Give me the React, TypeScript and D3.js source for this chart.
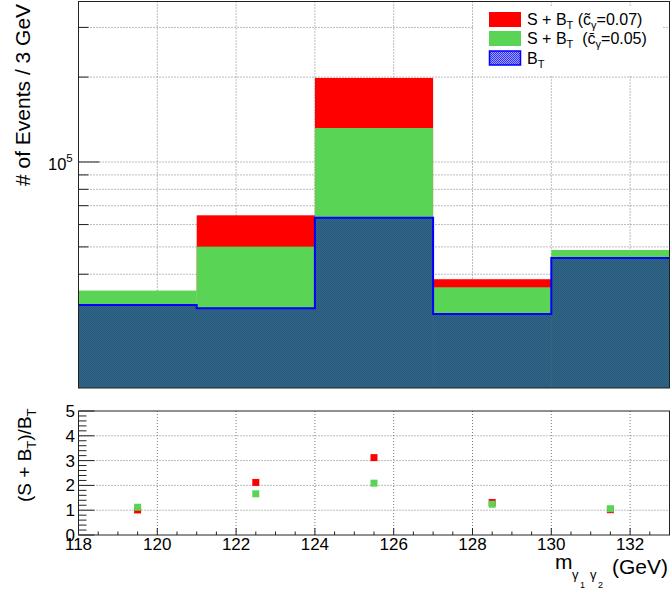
import React from "react";
import * as d3 from "d3";

// ---- data ----
const binEdges = [118, 121, 124, 127, 130, 133];
const bkgValues = [31100, 30300, 63450, 28900, 45700];          // B_T
const sig005Values = [35000, 50100, 132000, 35960, 48750];      // S + B_T (0.05)
const sig007Values = [31400, 64700, 198600, 38400, 46600];      // S + B_T (0.07)
const ratio007 = [1.01, 2.12, 3.12, 1.31, 1.02];
const ratio005 = [1.12, 1.66, 2.09, 1.24, 1.06];
const xMajorTicks = [118, 120, 122, 124, 126, 128, 130, 132];
const yTopTicks = [20000, 30000, 40000, 50000, 60000, 70000, 80000, 90000, 100000, 200000, 300000];
const yTopDomain = [15800, 370700];
const yRatioTicks = [0, 1, 2, 3, 4, 5];

const W = 670, H = 594;
const FONT = "'Liberation Sans', Arial, Helvetica, sans-serif";
const RED = "#ff0000";
const GREEN = "#59d454";
const BLUE = "#0000ff";
const GRID = "#7a7a7a";

export default function App() {
  const x = d3.scaleLinear().domain([118, 133]).range([78.5, 669.5]);
  const yTop = d3.scaleLog().domain(yTopDomain).range([388, 1.5]);
  const yR = d3.scaleLinear().domain([0, 5]).range([535, 411]);

  const bins = d3.range(bkgValues.length).map((i) => ({
    x0: binEdges[i],
    x1: binEdges[i + 1],
    c: (binEdges[i] + binEdges[i + 1]) / 2,
    b: bkgValues[i],
    g: sig005Values[i],
    r: sig007Values[i],
  }));

  const stepPts: [number, number][] = [];
  bins.forEach((b) => {
    stepPts.push([x(b.x0), yTop(b.b)]);
    stepPts.push([x(b.x1), yTop(b.b)]);
  });
  const stepLine = d3.line()(stepPts) as string;

  const xMinor = d3.range(118, 133.01, 0.5).filter((v) => !xMajorTicks.includes(v));
  const yRMinor = d3.range(0, 5.001, 0.2).filter((v) => Math.abs(v - Math.round(v)) > 1e-6);

  const bottomTop = yTop.range()[0];
  return (
    <svg width={W} height={H} style={{ position: "absolute", left: 0, top: 0, fontFamily: FONT }}>
      <defs>
        <pattern id="btfill" width={2} height={2} patternUnits="userSpaceOnUse">
          <rect width={2} height={2} fill="#37705a" />
          <rect width={1} height={1} fill="#2350a8" />
          <rect x={1} y={1} width={1} height={1} fill="#2350a8" />
        </pattern>
        <pattern id="btleg" width={2} height={2} patternUnits="userSpaceOnUse">
          <rect width={2} height={2} fill="#a0a0ff" />
          <rect width={1} height={1} fill="#3030ff" />
          <rect x={1} y={1} width={1} height={1} fill="#3030ff" />
        </pattern>
      </defs>
      <rect width={W} height={H} fill="#fff" />

      {/* ===== TOP PAD ===== */}
      {xMajorTicks.slice(1).map((v) => (
        <line key={"gx" + v} x1={x(v)} x2={x(v)} y1={1.5} y2={388} stroke={GRID} strokeDasharray="1,2" />
      ))}
      {yTopTicks.map((v) => (
        <line key={"gy" + v} x1={78.5} x2={669.5} y1={yTop(v)} y2={yTop(v)} stroke={GRID} strokeDasharray="1,2" />
      ))}
      {yTopTicks.map((v) => (
        <line key={"ty" + v} x1={78.5} x2={78.5 + (v === 100000 ? 21 : 10)} y1={yTop(v)} y2={yTop(v)} stroke="#222" />
      ))}
      {bins.map((b, i) => (
        <rect key={"r" + i} x={x(b.x0)} y={yTop(b.r)} width={x(b.x1) - x(b.x0)} height={bottomTop - yTop(b.r)} fill={RED} />
      ))}
      {bins.map((b, i) => (
        <rect key={"g" + i} x={x(b.x0)} y={yTop(b.g)} width={x(b.x1) - x(b.x0)} height={bottomTop - yTop(b.g)} fill={GREEN} />
      ))}
      {bins.map((b, i) => (
        <rect key={"b" + i} x={x(b.x0)} y={yTop(b.b)} width={x(b.x1) - x(b.x0) + 0.5} height={bottomTop - yTop(b.b)} fill="url(#btfill)" />
      ))}
      <path d={stepLine} fill="none" stroke={BLUE} strokeWidth={2} />
      <rect x={78.5} y={1.5} width={591} height={386.5} fill="none" stroke="#222" strokeWidth={1} />
      <text x={48} y={yTop(100000) + 8} fontSize={16.5} fill="#000">
        10<tspan dy={-8} fontSize={11.5}>5</tspan>
      </text>
      <text transform={`translate(30,186) rotate(-90)`} fontSize={21} textAnchor="start" fill="#000">
        # of Events / 3 GeV
      </text>

      {/* legend */}
      <rect x={474} y={6} width={189} height={70} fill="#fff" />
      <rect x={489} y={12} width={32} height={15} fill={RED} />
      <rect x={489} y={31} width={32} height={15} fill={GREEN} />
      <rect x={489.5} y={51} width={31} height={14} fill="url(#btleg)" stroke={BLUE} strokeWidth={1.5} />
      <text x={527} y={25} fontSize={16} fill="#000">
        S + B<tspan fontSize={11} dy={4}>T</tspan>
        <tspan dy={-4}>{" (c\u0303"}</tspan>
        <tspan fontSize={11} dy={4}>γ</tspan>
        <tspan dy={-4}>=0.07)</tspan>
      </text>
      <text x={527} y={44} fontSize={16} fill="#000">
        S + B<tspan fontSize={11} dy={4}>T</tspan>
        <tspan dy={-4}>{"\u00a0 (c\u0304"}</tspan>
        <tspan fontSize={11} dy={4}>γ</tspan>
        <tspan dy={-4}>=0.05)</tspan>
      </text>
      <text x={527} y={64} fontSize={16} fill="#000">
        B<tspan fontSize={11} dy={4}>T</tspan>
      </text>

      {/* ===== BOTTOM PAD ===== */}
      {xMajorTicks.slice(1).map((v) => (
        <line key={"bgx" + v} x1={x(v)} x2={x(v)} y1={411} y2={535} stroke={GRID} strokeDasharray="1,2" />
      ))}
      {[1, 2, 3, 4].map((v) => (
        <line key={"bgy" + v} x1={78.5} x2={669.5} y1={yR(v)} y2={yR(v)} stroke={GRID} strokeDasharray="1,2" />
      ))}
      {yRatioTicks.map((v) => (
        <line key={"rty" + v} x1={78.5} x2={94.5} y1={yR(v)} y2={yR(v)} stroke="#222" />
      ))}
      {yRMinor.map((v) => (
        <line key={"rtym" + v} x1={78.5} x2={86.5} y1={yR(v)} y2={yR(v)} stroke="#222" />
      ))}
      {xMajorTicks.map((v) => (
        <line key={"rtx" + v} x1={x(v)} x2={x(v)} y1={535} y2={528} stroke="#222" />
      ))}
      {xMinor.map((v) => (
        <line key={"rtxm" + v} x1={x(v)} x2={x(v)} y1={535} y2={531.5} stroke="#222" />
      ))}
      {bins.map((b, i) => (
        <rect key={"mr" + i} x={x(b.c) - 3.5} y={yR(ratio007[i]) - 3.5} width={7} height={7} fill={RED} />
      ))}
      {bins.map((b, i) => (
        <rect key={"mg" + i} x={x(b.c) - 3.5} y={yR(ratio005[i]) - 3.5} width={7} height={7} fill={GREEN} />
      ))}
      <rect x={78.5} y={411} width={591} height={124} fill="none" stroke="#222" strokeWidth={1} />
      {yRatioTicks.map((v) => (
        <text key={"ly" + v} x={75} y={yR(v) + 6} fontSize={17} textAnchor="end" fill="#000">
          {v}
        </text>
      ))}
      {xMajorTicks.map((v) => (
        <text key={"lx" + v} x={x(v)} y={550} fontSize={17} textAnchor="middle" fill="#000">
          {v}
        </text>
      ))}
      <text transform={`translate(31,502) rotate(-90)`} fontSize={19} fill="#000">
        (S + B<tspan fontSize={13} dy={5}>T</tspan>
        <tspan dy={-5}>)/B</tspan>
        <tspan fontSize={13} dy={5}>T</tspan>
      </text>
      {/* x title */}
      <text x={555} y={569} fontSize={21} fill="#000">m</text>
      <text x={572} y={579} fontSize={13} fill="#000">γ</text>
      <text x={580} y={588} fontSize={9} fill="#000">1</text>
      <text x={590} y={579} fontSize={13} fill="#000">γ</text>
      <text x={598} y={588} fontSize={9} fill="#000">2</text>
      <text x={668} y={574} fontSize={21} textAnchor="end" fill="#000">(GeV)</text>
    </svg>
  );
}
